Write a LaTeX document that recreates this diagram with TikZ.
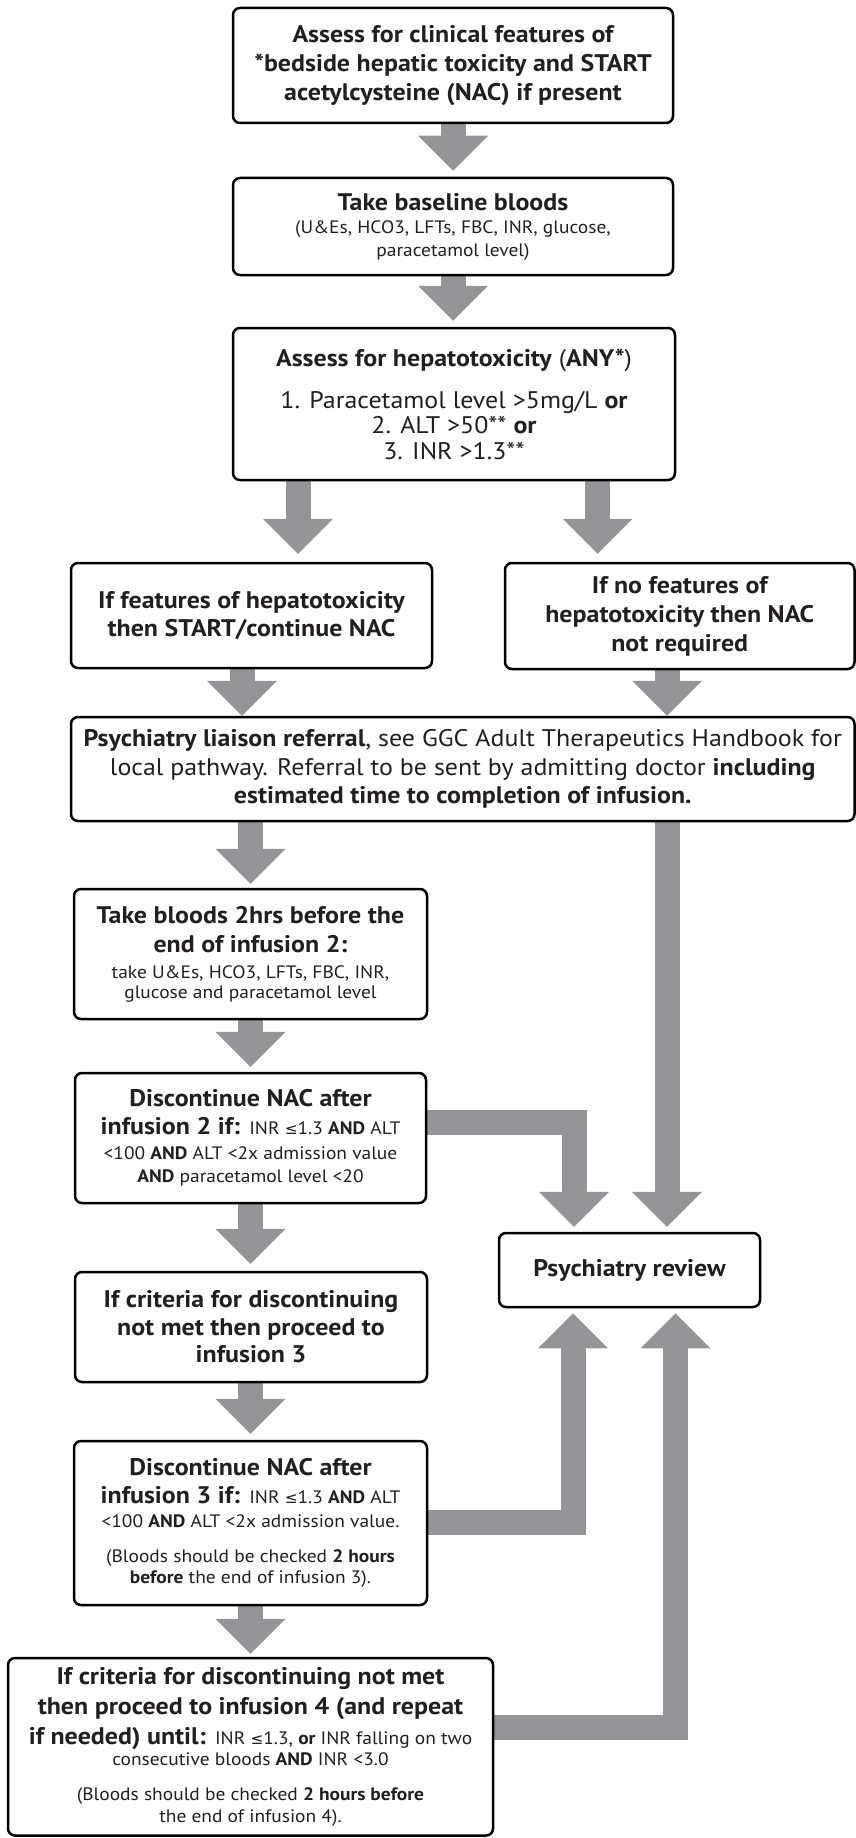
\documentclass[tikz,border=0pt]{standalone}
\usepackage{fontspec}
\setmainfont{PT Sans}[FakeStretch=1.08]
\newfontfamily\symfont{DejaVu Sans}[Scale=0.85]
\usetikzlibrary{arrows.meta}

\definecolor{flowgray}{RGB}{147,149,152}
\definecolor{ink}{RGB}{35,31,32}
\newcommand{\leqsym}{{\symfont ≤}}
\newcommand{\bigtxt}{\fontsize{24}{29}\selectfont}
\newcommand{\smtxt}{\fontsize{18}{22}\selectfont}

\pgfdeclarelayer{background}
\pgfsetlayers{background,main}

\begin{document}
\begin{tikzpicture}[x=1pt, y=-1pt,
    box/.style={draw=black, line width=2.5pt, rounded corners=7pt, fill=white, inner sep=0pt, align=center, text=ink, font=\bigtxt},
    bbox/.style={box, font=\bigtxt\bfseries},
    ar/.style={draw=flowgray, line width=25pt, line join=miter, -{Triangle[length=35pt, width=70pt, line width=0pt]}}]
    \useasboundingbox (0,0) rectangle (856,1838);

    \node[bbox, minimum width=440pt, minimum height=115pt] (assess) at (453,65.5) {Assess for clinical features of\\ *bedside hepatic toxicity and START\\ acetylcysteine (NAC) if present};
    \node[box, minimum width=440pt, minimum height=97pt] (baseline) at (453,226.5) {\textbf{Take baseline bloods}\\[-6pt] {\smtxt (U\&Es, HCO3, LFTs, FBC, INR, glucose,}\\[-6pt] {\smtxt paracetamol level)}};
    \node[box, minimum width=442pt, minimum height=152pt] (hepat) at (454,404) {\textbf{Assess for hepatotoxicity} (\textbf{ANY*})\\[13pt] 1. Paracetamol level >5mg/L \textbf{or}\\[-3.5pt] 2. ALT >50** \textbf{or}\\[-3.5pt] 3. INR >1.3**};

    \node[bbox, minimum width=361pt, minimum height=105pt] (feat) at (251.5,615.5) {If features of hepatotoxicity\\[-1.5pt] then START/continue NAC};
    \node[bbox, minimum width=349.5pt, minimum height=106pt] (nofeat) at (679.75,616) {If no features of\\ hepatotoxicity then NAC\\ not required};

    \node[box, minimum width=783.5pt, minimum height=104pt] (liaison) at (462.75,769) {\textbf{Psychiatry liaison referral}, see GGC Adult Therapeutics Handbook for\\[-0.5pt] local pathway. Referral to be sent by admitting doctor \textbf{including}\\[-0.5pt] \textbf{estimated time to completion of infusion.}};

    \node[box, minimum width=353pt, minimum height=130pt] (bloods) at (250.5,954) {\textbf{Take bloods 2hrs before the}\\ \textbf{end of infusion 2:}\\[-3pt] {\smtxt take U\&Es, HCO3, LFTs, FBC, INR,}\\[-9pt] {\smtxt glucose and paracetamol level}};
    \node[box, minimum width=351pt, minimum height=130pt] (disc2) at (250.5,1138) {\textbf{Discontinue NAC after}\\[-1pt] \textbf{infusion 2 if:} {\smtxt INR \leqsym1.3 \textbf{AND} ALT}\\[-4pt] {\smtxt <100 \textbf{AND} ALT <2x admission value}\\[-6pt] {\smtxt \textbf{AND} paracetamol level <20}};
    \node[bbox, minimum width=352pt, minimum height=110pt] (crit3) at (251,1327) {If criteria for discontinuing\\[-1.5pt] not met then proceed to\\[-1.5pt] infusion 3};
    \node[box, minimum width=353pt, minimum height=164pt] (disc3) at (250.5,1523) {\textbf{Discontinue NAC after}\\[-0.5pt] \textbf{infusion 3 if:} {\smtxt INR \leqsym1.3 \textbf{AND} ALT}\\[-5.5pt] {\smtxt <100 \textbf{AND} ALT <2x admission value.}\\[6pt] {\smtxt (Bloods should be checked \textbf{2 hours}}\\[-7.5pt] {\smtxt \textbf{before} the end of infusion 3).}};
    \node[box, minimum width=485pt, minimum height=177.5pt] (crit4) at (250.5,1746.75) {\textbf{If criteria for discontinuing not met}\\[1pt] \textbf{then proceed to infusion 4 (and repeat}\\[1pt] \textbf{if needed) until:} {\smtxt INR \leqsym1.3, \textbf{or} INR falling on two}\\[-7.5pt] {\smtxt consecutive bloods \textbf{AND} INR <3.0}\\[6pt] {\smtxt (Bloods should be checked \textbf{2 hours before}}\\[-7.5pt] {\smtxt the end of infusion 4).}};

    \node[bbox, minimum width=261pt, minimum height=74pt] (review) at (629.5,1270) {Psychiatry review};

    \coordinate (colL) at (298,0);
    \coordinate (colR) at (597.5,0);
    \coordinate (colL2) at (242,0);
    \coordinate (colR2) at (667,0);
    \coordinate (colM) at (250.5,0);
    \coordinate (k8) at (574,1122.5);
    \coordinate (k10) at (573,1522.5);
    \coordinate (k11) at (675.5,1727.5);

    \begin{pgfonlayer}{background}
        \draw[ar, shorten >=6pt] (assess.south) -- (baseline.north);
        \draw[ar, shorten >=6pt] (baseline.south) -- (baseline.south |- hepat.north);
        \draw[ar, shorten >=8pt] (hepat.south -| colL) -- (feat.north -| colL);
        \draw[ar, shorten >=8pt] (hepat.south -| colR) -- (nofeat.north -| colR);
        \draw[ar] (feat.south -| colL2) -- (liaison.north -| colL2);
        \draw[ar] (nofeat.south -| colR2) -- (liaison.north -| colR2);
        \draw[ar, shorten >=4pt] (liaison.south -| colM) -- (bloods.north -| colM);
        \draw[ar, shorten >=5pt] (bloods.south -| colM) -- (disc2.north -| colM);
        \draw[ar, shorten >=7pt] (disc2.south -| colM) -- (crit3.north -| colM);
        \draw[ar, shorten >=6pt] (crit3.south -| colM) -- (disc3.north -| colM);
        \draw[ar, shorten >=3pt] (disc3.south -| colM) -- (crit4.north -| colM);
        \draw[ar, shorten >=5pt] (liaison.south -| colR2) -- (review.north -| colR2);
        \draw[ar, shorten >=5pt] (disc2.east |- k8) -- (k8) -- (k8 |- review.north);
        \draw[ar, shorten >=5pt] (disc3.east |- k10) -- (k10) -- (k10 |- review.south);
        \draw[ar, shorten >=5pt] (crit4.east |- k11) -- (k11) -- (k11 |- review.south);
    \end{pgfonlayer}
\end{tikzpicture}
\end{document}
